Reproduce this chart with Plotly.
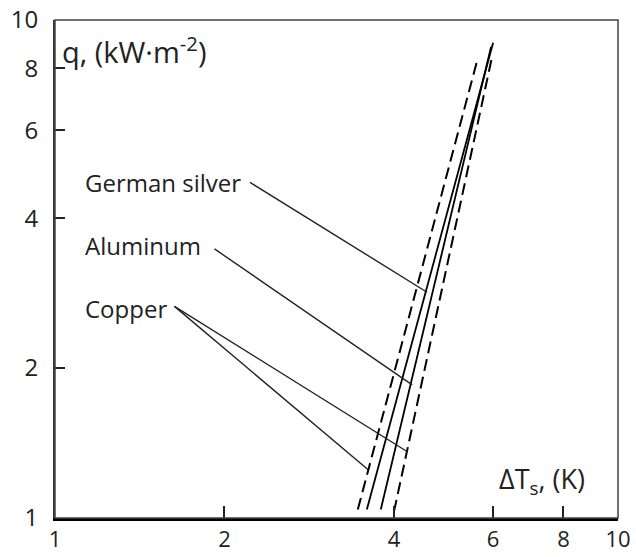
import numpy as np
import plotly.graph_objects as go

# boiling curves, q vs delta T (log-log)
copper_lo_dt = [3.45, 5.62]
copper_lo_q = [1.04, 8.28]
copper_hi_dt = [4.00, 5.97]
copper_hi_q = [1.03, 8.40]
silver_dt = [3.58, 6.00]
silver_q = [1.04, 9.00]
alu_dt = [3.79, 5.95]
alu_q = [1.04, 8.83]

# leader lines from labels to curves
silver_lead_dt = [2.22, 4.58]
silver_lead_q = [4.72, 2.84]
alu_lead_dt = [1.92, 4.31]
alu_lead_q = [3.47, 1.85]
cu_lead1_dt = [1.63, 3.60]
cu_lead1_q = [2.66, 1.25]
cu_lead2_dt = [1.63, 4.22]
cu_lead2_q = [2.66, 1.36]

labels = ["German silver", "Aluminum", "Copper"]
label_dt = [1.12, 1.12, 1.12]
label_q = [4.72, 3.52, 2.63]

x_ticks = [1, 2, 4, 6, 8, 10]
y_ticks = [1, 2, 4, 6, 8, 10]

FONT = "Open Sans"

fig = go.Figure()

dash = "12px,6px"
fig.add_trace(go.Scatter(x=copper_lo_dt, y=copper_lo_q, mode="lines",
                         line=dict(color="black", width=2, dash=dash)))
fig.add_trace(go.Scatter(x=copper_hi_dt, y=copper_hi_q, mode="lines",
                         line=dict(color="black", width=2, dash=dash)))
fig.add_trace(go.Scatter(x=silver_dt, y=silver_q, mode="lines",
                         line=dict(color="black", width=1.8)))
fig.add_trace(go.Scatter(x=alu_dt, y=alu_q, mode="lines",
                         line=dict(color="black", width=1.8)))

for lx, ly in [(silver_lead_dt, silver_lead_q), (alu_lead_dt, alu_lead_q),
               (cu_lead1_dt, cu_lead1_q), (cu_lead2_dt, cu_lead2_q)]:
    fig.add_trace(go.Scatter(x=lx, y=ly, mode="lines",
                             line=dict(color="#222", width=1.4)))

# annotations on log axes take log10 positions
for t, lx, ly in zip(labels, label_dt, label_q):
    fig.add_annotation(x=np.log10(lx), y=np.log10(ly), xref="x", yref="y",
                       text=t, showarrow=False,
                       xanchor="left", yanchor="middle",
                       font=dict(family=FONT, size=24, color="#222"))

# axis titles inside the plot area
fig.add_annotation(x=0.008, y=0.94, xref="paper", yref="paper",
                   text="q, (kW·m<sup>-2</sup>)", showarrow=False,
                   xanchor="left", yanchor="middle",
                   font=dict(family=FONT, size=29, color="#222"))
fig.add_annotation(x=0.945, y=0.075, xref="paper", yref="paper",
                   text="ΔT<sub>s</sub>, (K)", showarrow=False,
                   xanchor="right", yanchor="middle",
                   font=dict(family=FONT, size=27, color="#222"))

# thin frame on top/right
fig.add_shape(type="rect", xref="paper", yref="paper", x0=0, y0=0, x1=1, y1=1,
              line=dict(color="#444", width=1.5))

fig.update_xaxes(type="log", range=[0, 1], tickvals=x_ticks,
                 ticktext=[str(v) for v in x_ticks], automargin=False,
                 showline=True, linecolor="black", linewidth=3,
                 ticks="inside", ticklen=12, tickwidth=1.5, tickcolor="#222",
                 showgrid=False, zeroline=False, ticklabelstandoff=0,
                 tickfont=dict(family=FONT, size=22, color="#222"))
fig.update_yaxes(type="log", range=[0, 1], tickvals=y_ticks,
                 ticktext=[str(v) for v in y_ticks], automargin=False,
                 showline=True, linecolor="#333", linewidth=2,
                 ticks="inside", ticklen=10, tickwidth=1.5, tickcolor="#222",
                 showgrid=False, zeroline=False, ticklabelstandoff=10,
                 tickfont=dict(family=FONT, size=24, color="#222"))

fig.update_layout(width=636, height=557, showlegend=False,
                  paper_bgcolor="white", plot_bgcolor="white",
                  margin=dict(l=55, r=18, t=20, b=39))

# drop the default page margin so the figure sits at the window corner
fig.write_html("out.html", config={"displayModeBar": False},
               post_script="document.body.style.margin='0';")
